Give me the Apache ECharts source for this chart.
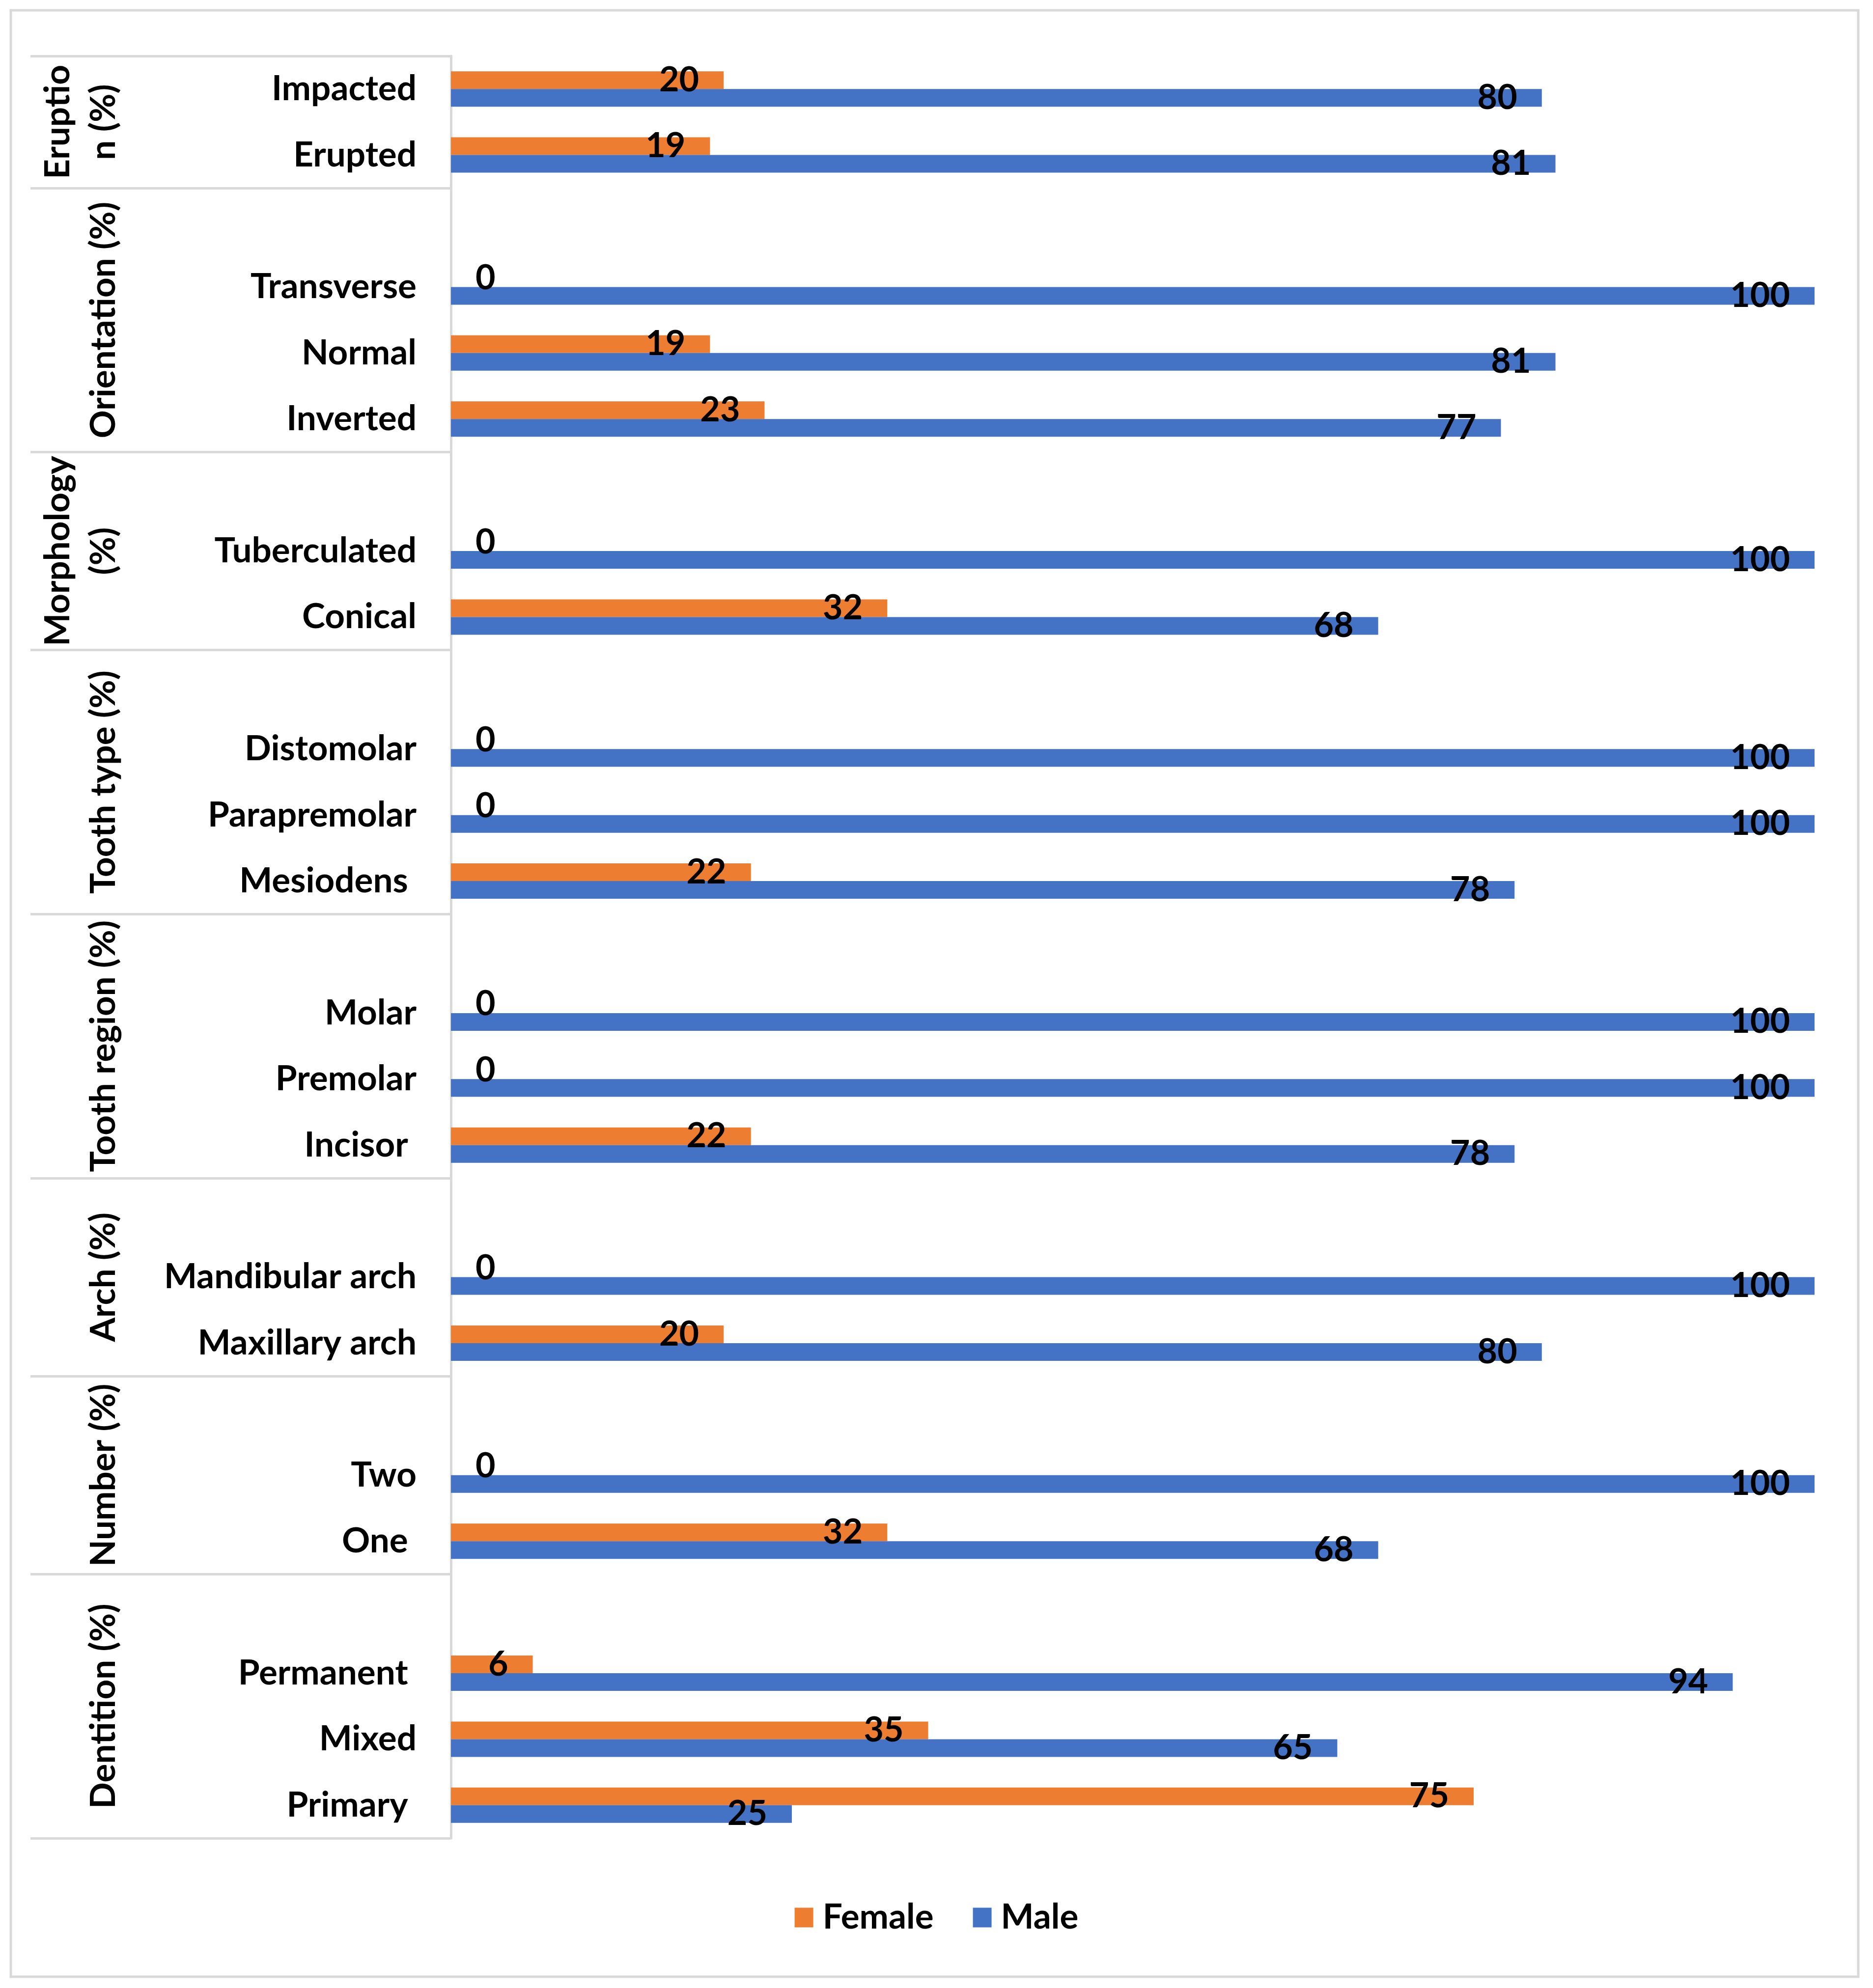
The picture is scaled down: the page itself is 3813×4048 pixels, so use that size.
<!DOCTYPE html>
<html><head><meta charset="utf-8">
<script src="https://cdn.jsdelivr.net/npm/echarts@6/dist/echarts.min.js"></script>
<style>html,body{margin:0;padding:0;background:#fff}#c{width:3813px;height:4048px}</style>
</head><body><div id="c"></div>
<script>
const groupNames = ['Eruptio\nn (%)', 'Orientation (%)', 'Morphology\n(%)', 'Tooth type (%)', 'Tooth region (%)', 'Arch (%)', 'Number (%)', 'Dentition (%)'];
const groupSizes = [2, 4, 3, 4, 4, 3, 3, 4];
const categories = ['Impacted', 'Erupted', '', 'Transverse', 'Normal', 'Inverted', '', 'Tuberculated', 'Conical', '', 'Distomolar', 'Parapremolar', 'Mesiodens ', '', 'Molar', 'Premolar', 'Incisor ', '', 'Mandibular arch', 'Maxillary arch', '', 'Two', 'One ', '', 'Permanent ', 'Mixed', 'Primary '];
const female = [20, 19, null, 0, 19, 23, null, 0, 32, null, 0, 0, 22, null, 0, 0, 22, null, 0, 20, null, 0, 32, null, 6, 35, 75];
const male = [80, 81, null, 100, 81, 77, null, 100, 68, null, 100, 100, 78, null, 100, 100, 78, null, 100, 80, null, 100, 68, null, 94, 65, 25];
const seriesNames = ['Female', 'Male'];

const FONT = 'Lato';
const FS = 71;
const LINE = '#d9d9d9';

const groupStarts = [];
let acc = 0;
groupSizes.forEach(s => { groupStarts.push(acc); acc += s; });
const total = acc;
const groupCenters = groupStarts.map((s, i) => s + groupSizes[i] / 2);

function toData(arr) {
  return arr.map(v => v === null ? null : (v === 0 ? { value: 0, label: { position: 'insideLeft' } } : v));
}
const labelStyle = { show: true, position: 'insideRight', distance: 50, color: '#000', fontFamily: FONT, fontWeight: 'bold', fontSize: 70 };

const chart = echarts.init(document.getElementById('c'), null, { renderer: 'canvas' });
chart.setOption({
  backgroundColor: '#fff',
  animation: false,
  graphic: [{ type: 'rect', shape: { x: 22, y: 21, width: 3761, height: 4004 }, style: { fill: 'none', stroke: LINE, lineWidth: 5 }, silent: true }],
  grid: { left: 918, right: 119, top: 114, bottom: 305, containLabel: false, outerBoundsMode: 'none' },
  legend: {
    data: seriesNames, left: 'center', top: 3864, icon: 'rect', itemWidth: 38, itemHeight: 40, itemGap: 80,
    textStyle: { fontFamily: FONT, fontWeight: 'bold', fontSize: FS, color: '#000', padding: [0, 0, 0, 14] }
  },
  xAxis: { type: 'value', min: 0, max: 100, show: false },
  yAxis: [
    {
      type: 'category', data: categories, inverse: true,
      axisLine: { show: true, lineStyle: { color: LINE, width: 5 } },
      axisTick: { show: true, length: 856, interval: (idx) => groupStarts.indexOf(idx) >= 0, lineStyle: { color: LINE, width: 5 } },
      axisLabel: { interval: 0, margin: 70, fontFamily: FONT, fontWeight: 'bold', fontSize: FS, color: '#000' },
      splitLine: { show: false }
    },
    {
      type: 'value', min: 0, max: total, inverse: true, position: 'left', offset: 660,
      axisLine: { show: false }, axisTick: { show: false }, splitLine: { show: false },
      axisLabel: {
        customValues: groupCenters, rotate: 90, margin: 0, lineHeight: 93,
        fontFamily: FONT, fontWeight: 'bold', fontSize: FS, color: '#000',
        formatter: (v) => { const i = groupCenters.indexOf(v); return i >= 0 ? groupNames[i] : ''; }
      }
    }
  ],
  series: [
    { name: seriesNames[0], type: 'bar', yAxisIndex: 0, data: toData(female), barWidth: 36, barGap: '0%', itemStyle: { color: '#ED7D31' }, label: labelStyle },
    { name: seriesNames[1], type: 'bar', yAxisIndex: 0, data: toData(male), barWidth: 36, barGap: '0%', itemStyle: { color: '#4472C4' }, label: labelStyle }
  ]
});
</script>
</body></html>
